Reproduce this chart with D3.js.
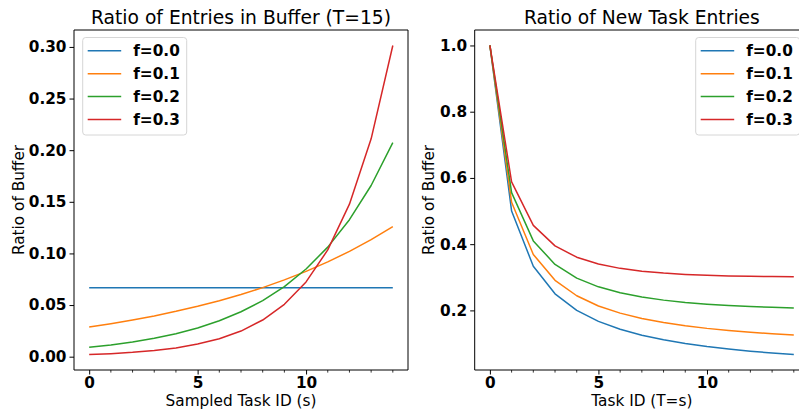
<!DOCTYPE html>
<html lang="en">
<head>
<meta charset="UTF-8">
<title>Ratio of Buffer</title>
<script src="https://d3js.org/d3.v7.min.js"></script>
<style>
    body { margin: 0; background: #fff; overflow: hidden; }
    svg { display: block; }
    text { font-family: "DejaVu Sans", sans-serif; fill: #000; }
</style>
</head>
<body>
<svg width="799" height="412"></svg>
<script>
// series labels and colours (matplotlib tab10)
const seriesNames = ["f=0.0", "f=0.1", "f=0.2", "f=0.3"];
const colors = ["#1f77b4", "#ff7f0e", "#2ca02c", "#d62728"];

// left panel: sampled task id 0..14, ratio of entries in buffer (T=15)
const taskIdsLeft = [0, 1, 2, 3, 4, 5, 6, 7, 8, 9, 10, 11, 12, 13, 14];
const leftF00 = [0.0667, 0.0667, 0.0667, 0.0667, 0.0667, 0.0667, 0.0667, 0.0667, 0.0667, 0.0667, 0.0667, 0.0667, 0.0667, 0.0667, 0.0667];
const leftF01 = [0.0288, 0.0320, 0.0356, 0.0395, 0.0439, 0.0488, 0.0542, 0.0602, 0.0669, 0.0744, 0.0826, 0.0918, 0.1020, 0.1133, 0.1259];
const leftF02 = [0.0091, 0.0114, 0.0142, 0.0178, 0.0223, 0.0278, 0.0348, 0.0435, 0.0543, 0.0679, 0.0849, 0.1061, 0.1327, 0.1658, 0.2073];
const leftF03 = [0.0020, 0.0029, 0.0042, 0.0060, 0.0085, 0.0122, 0.0174, 0.0248, 0.0355, 0.0507, 0.0724, 0.1034, 0.1477, 0.2110, 0.3014];

// right panel: task id T=s 0..14, ratio of new task entries
const taskIdsRight = [0, 1, 2, 3, 4, 5, 6, 7, 8, 9, 10, 11, 12, 13, 14];
const rightF00 = [1.0, 0.5, 0.3333, 0.25, 0.2, 0.1667, 0.1429, 0.125, 0.1111, 0.1, 0.0909, 0.0833, 0.0769, 0.0714, 0.0667];
const rightF01 = [1.0, 0.5263, 0.3690, 0.2908, 0.2442, 0.2134, 0.1917, 0.1756, 0.1632, 0.1535, 0.1457, 0.1394, 0.1341, 0.1297, 0.1259];
const rightF02 = [1.0, 0.5556, 0.4098, 0.3388, 0.2975, 0.2711, 0.2531, 0.2403, 0.2310, 0.2241, 0.2188, 0.2148, 0.2116, 0.2092, 0.2073];
const rightF03 = [1.0, 0.5882, 0.4566, 0.3948, 0.3606, 0.3400, 0.3269, 0.3183, 0.3126, 0.3087, 0.3061, 0.3042, 0.3029, 0.3020, 0.3014];

const xTicks = [0, 5, 10];
const xMinorTicks = [0, 1, 2, 3, 4, 5, 6, 7, 8, 9, 10, 11, 12, 13, 14];
const leftYTicks = [0.00, 0.05, 0.10, 0.15, 0.20, 0.25, 0.30];
const rightYTicks = [0.2, 0.4, 0.6, 0.8, 1.0];

const svg = d3.select("svg");
const tickFont = "15.3px";

function drawPanel(opts) {
    const { left, right, top, bottom, xs, series, xDomain, yDomain, yTicks, yFmt,
            title, xLabel, yLabelX, legendX, legendW, showRight } = opts;

    const x = d3.scaleLinear().domain(xDomain).range([left, right]);
    const y = d3.scaleLinear().domain(yDomain).range([bottom, top]);
    const g = svg.append("g");

    // clip lines to axes area
    const clipId = "clip" + Math.round(left);
    g.append("clipPath").attr("id", clipId)
        .append("rect").attr("x", left).attr("y", top)
        .attr("width", right - left).attr("height", bottom - top);

    const line = d3.line().x((d, i) => x(xs[i])).y(d => y(d));
    const lines = g.append("g").attr("clip-path", `url(#${clipId})`);
    series.forEach((vals, k) => {
        lines.append("path")
            .datum(vals)
            .attr("d", line)
            .attr("fill", "none")
            .attr("stroke", colors[k])
            .attr("stroke-width", 1.5)
            .attr("stroke-linejoin", "round");
    });

    // x axis (major + minor)
    const xAxis = g.append("g").attr("transform", `translate(0,${bottom})`)
        .call(d3.axisBottom(x).tickValues(xTicks).tickFormat(d3.format("d"))
            .tickSize(4.5).tickPadding(2.5).tickSizeOuter(0));
    xAxis.select(".domain").remove();
    xAxis.selectAll("text").style("font-size", tickFont).style("font-weight", "bold");
    g.append("g").attr("transform", `translate(0,${bottom})`)
        .selectAll("line").data(xMinorTicks.filter(t => !xTicks.includes(t)))
        .join("line")
        .attr("x1", d => x(d)).attr("x2", d => x(d))
        .attr("y1", 0).attr("y2", 2.6)
        .attr("stroke", "#000").attr("stroke-width", 0.8);

    // y axis
    const yAxis = g.append("g").attr("transform", `translate(${left},0)`)
        .call(d3.axisLeft(y).tickValues(yTicks).tickFormat(d3.format(yFmt))
            .tickSize(4.5).tickPadding(3).tickSizeOuter(0));
    yAxis.select(".domain").remove();
    yAxis.selectAll("text").style("font-size", tickFont).style("font-weight", "bold");

    // spines
    const sp = g.append("g").attr("stroke", "#000").attr("stroke-width", 1).attr("fill", "none");
    sp.append("line").attr("x1", left).attr("x2", left).attr("y1", top).attr("y2", bottom);
    sp.append("line").attr("x1", left).attr("x2", right).attr("y1", top).attr("y2", top);
    sp.append("line").attr("x1", left).attr("x2", right).attr("y1", bottom).attr("y2", bottom);
    if (showRight) sp.append("line").attr("x1", right).attr("x2", right).attr("y1", top).attr("y2", bottom);

    // title and axis labels
    g.append("text").attr("x", (left + right) / 2).attr("y", 24)
        .attr("text-anchor", "middle").style("font-size", "18.7px").text(title);
    g.append("text").attr("x", (left + right) / 2).attr("y", 406)
        .attr("text-anchor", "middle").style("font-size", "15.3px").text(xLabel);
    g.append("text")
        .attr("transform", `translate(${yLabelX},${(top + bottom) / 2}) rotate(-90)`)
        .attr("text-anchor", "middle").style("font-size", "15.3px").text("Ratio of Buffer");

    // legend
    const lg = g.append("g").attr("transform", `translate(${legendX},37.5)`);
    lg.append("rect").attr("width", legendW).attr("height", 97.5)
        .attr("rx", 3).attr("fill", "rgba(255,255,255,0.8)")
        .attr("stroke", "#d6d6d6").attr("stroke-width", 1);
    seriesNames.forEach((name, k) => {
        const ly = 13.3 + k * 22.9;
        lg.append("line").attr("x1", 5).attr("x2", 38.5).attr("y1", ly).attr("y2", ly)
            .attr("stroke", colors[k]).attr("stroke-width", 1.5);
        lg.append("text").attr("x", 50.5).attr("y", ly).attr("dy", "0.36em")
            .style("font-size", tickFont).style("font-weight", "bold").text(name);
    });
}

drawPanel({
    left: 74, right: 408, top: 30, bottom: 370,
    xs: taskIdsLeft,
    series: [leftF00, leftF01, leftF02, leftF03],
    xDomain: [-0.7, 14.7], yDomain: [-0.0129, 0.3164],
    yTicks: leftYTicks, yFmt: ".2f",
    title: "Ratio of Entries in Buffer (T=15)",
    xLabel: "Sampled Task ID (s)",
    yLabelX: 24, legendX: 82.7, legendW: 104, showRight: true
});

drawPanel({
    left: 474.7, right: 809, top: 30, bottom: 370,
    xs: taskIdsRight,
    series: [rightF00, rightF01, rightF02, rightF03],
    xDomain: [-0.7, 14.7], yDomain: [0.02, 1.0467],
    yTicks: rightYTicks, yFmt: ".1f",
    title: "Ratio of New Task Entries",
    xLabel: "Task ID (T=s)",
    yLabelX: 433.5, legendX: 695.7, legendW: 104, showRight: true
});
</script>
</body>
</html>
